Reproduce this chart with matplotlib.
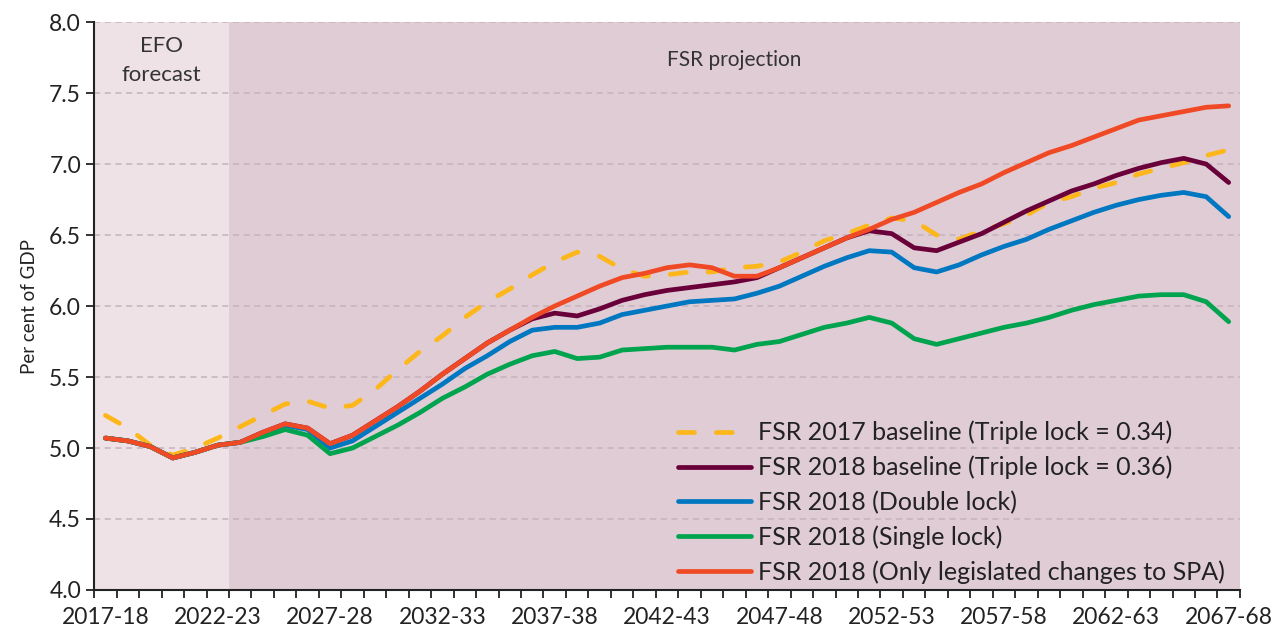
import numpy as np
import matplotlib
matplotlib.use("Agg")
import matplotlib.pyplot as plt

plt.rcParams['font.family'] = ['Lato', 'DejaVu Sans']

years = [f"{y}-{str(y + 1)[-2:]}" for y in range(2017, 2068)]

fsr2017 = [5.23, 5.14, 5.02, 4.95, 5.00, 5.07, 5.15, 5.23, 5.31, 5.33,
           5.28, 5.30, 5.41, 5.55, 5.68, 5.79, 5.92, 6.03, 6.12, 6.22,
           6.31, 6.38, 6.35, 6.26, 6.21, 6.22, 6.24, 6.24, 6.27, 6.28,
           6.31, 6.38, 6.46, 6.51, 6.57, 6.62, 6.60, 6.50, 6.47, 6.53,
           6.58, 6.64, 6.73, 6.77, 6.83, 6.87, 6.93, 6.97, 7.01, 7.06, 7.10]

baseline = [5.07, 5.05, 5.01, 4.93, 4.97, 5.02, 5.04, 5.11, 5.17, 5.14,
            5.03, 5.09, 5.19, 5.29, 5.40, 5.52, 5.63, 5.74, 5.83, 5.91,
            5.95, 5.93, 5.98, 6.04, 6.08, 6.11, 6.13, 6.15, 6.17, 6.20,
            6.27, 6.34, 6.41, 6.48, 6.53, 6.51, 6.41, 6.39, 6.45, 6.51,
            6.59, 6.67, 6.74, 6.81, 6.86, 6.92, 6.97, 7.01, 7.04, 7.00, 6.87]

double_lock = [5.07, 5.05, 5.01, 4.93, 4.97, 5.02, 5.04, 5.10, 5.16, 5.13,
               5.00, 5.05, 5.15, 5.25, 5.35, 5.45, 5.56, 5.65, 5.75, 5.83,
               5.85, 5.85, 5.88, 5.94, 5.97, 6.00, 6.03, 6.04, 6.05, 6.09,
               6.14, 6.21, 6.28, 6.34, 6.39, 6.38, 6.27, 6.24, 6.29, 6.36,
               6.42, 6.47, 6.54, 6.60, 6.66, 6.71, 6.75, 6.78, 6.80, 6.77, 6.63]

single_lock = [5.07, 5.05, 5.01, 4.93, 4.97, 5.02, 5.04, 5.08, 5.13, 5.09,
               4.96, 5.00, 5.08, 5.16, 5.25, 5.35, 5.43, 5.52, 5.59, 5.65,
               5.68, 5.63, 5.64, 5.69, 5.70, 5.71, 5.71, 5.71, 5.69, 5.73,
               5.75, 5.80, 5.85, 5.88, 5.92, 5.88, 5.77, 5.73, 5.77, 5.81,
               5.85, 5.88, 5.92, 5.97, 6.01, 6.04, 6.07, 6.08, 6.08, 6.03, 5.89]

legislated_spa = [5.07, 5.05, 5.01, 4.93, 4.97, 5.02, 5.04, 5.11, 5.17, 5.14,
                  5.03, 5.09, 5.19, 5.29, 5.40, 5.52, 5.63, 5.74, 5.83, 5.92,
                  6.00, 6.07, 6.14, 6.20, 6.23, 6.27, 6.29, 6.27, 6.21, 6.21,
                  6.27, 6.34, 6.41, 6.48, 6.54, 6.61, 6.66, 6.73, 6.80, 6.86,
                  6.94, 7.01, 7.08, 7.13, 7.19, 7.25, 7.31, 7.34, 7.37, 7.40, 7.41]

x = np.arange(len(years))

fig = plt.figure(figsize=(12.73, 6.31), dpi=100)
ax = fig.add_axes([0.074, 0.065, 0.900, 0.900])

# shaded periods
ax.axvspan(-0.5, 5.5, color='#eee2e7', zorder=0, lw=0)
ax.axvspan(5.5, len(years) - 0.5, color='#e0ccd5', zorder=0, lw=0)

for yv in np.arange(4.0, 8.01, 0.5):
    ax.axhline(yv, color='#c5b3bc', lw=1.1, ls=(0, (4, 3)), zorder=1)

lw = 3.4
ax.plot(x, fsr2017, color='#fdb71a', lw=lw, dashes=(3.4, 4.6),
        dash_capstyle='round', zorder=3,
        label='FSR 2017 baseline (Triple lock = 0.34)')
ax.plot(x, baseline, color='#6a0039', lw=lw, solid_capstyle='round', zorder=4,
        label='FSR 2018 baseline (Triple lock = 0.36)')
ax.plot(x, double_lock, color='#0077c1', lw=lw, solid_capstyle='round', zorder=4,
        label='FSR 2018 (Double lock)')
ax.plot(x, single_lock, color='#00a34e', lw=lw, solid_capstyle='round', zorder=4,
        label='FSR 2018 (Single lock)')
ax.plot(x, legislated_spa, color='#ef4a25', lw=lw, solid_capstyle='round', zorder=5,
        label='FSR 2018 (Only legislated changes to SPA)')

ax.set_xlim(-0.5, len(years) - 0.5)
ax.set_ylim(4.0, 8.0)

ax.set_xticks(x[::5])
ax.set_xticklabels(years[::5])
ax.set_xticks(np.arange(-0.5, len(years), 1), minor=True)
ax.tick_params(axis='x', which='major', length=0, pad=12, labelsize=16.5, colors='#222222')
ax.tick_params(axis='x', which='minor', length=6, width=1.3, direction='out', color='#222222')
ax.set_yticks(np.arange(4.0, 8.01, 0.5))
ax.yaxis.set_major_formatter(matplotlib.ticker.FormatStrFormatter('%.1f'))
ax.tick_params(axis='y', length=6, width=1.3, labelsize=16.5, colors='#222222')

for s in ['top', 'right']:
    ax.spines[s].set_visible(False)
for s in ['left', 'bottom']:
    ax.spines[s].set_linewidth(1.5)
    ax.spines[s].set_color('#222222')

ax.set_ylabel('Per cent of GDP', fontsize=13.5, color='#222222', labelpad=8)

ax.text(2.5, 7.83, 'EFO', ha='center', va='center', fontsize=16, color='#333333')
ax.text(2.5, 7.63, 'forecast', ha='center', va='center', fontsize=16, color='#333333')
ax.text(28.0, 7.73, 'FSR projection', ha='center', va='center', fontsize=15, color='#333333')

leg = ax.legend(loc='lower right', bbox_to_anchor=(1.0, -0.015), frameon=False,
                fontsize=18, handlelength=2.9, handletextpad=0.3,
                labelspacing=0.45, borderaxespad=0.2)
for t in leg.get_texts():
    t.set_color('#222222')

fig.savefig('out.png', dpi=100)
